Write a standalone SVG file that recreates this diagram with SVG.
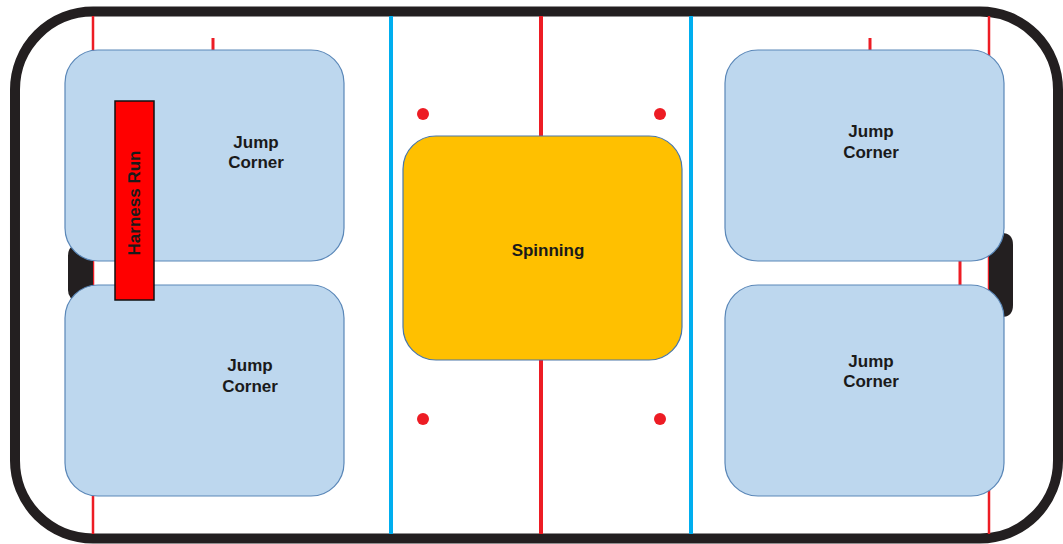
<svg xmlns="http://www.w3.org/2000/svg" width="1063" height="544" viewBox="0 0 1063 544">
  <style>
    .zone { fill: #BDD7EE; stroke: #5A87B8; stroke-width: 1.2; }
    .spin { fill: #FFC000; stroke: #4A77A8; stroke-width: 1.2; }
    .lbl { font-family: "Liberation Sans", Arial, sans-serif; font-weight: bold; font-size: 17px; fill: #1a1a1a; text-anchor: middle; }
    .red { stroke: #ED1C24; fill: none; }
    .blue { stroke: #00AEEF; stroke-width: 4; fill: none; }
    .dot { fill: #ED1C24; }
    .goal { fill: #231F20; }
  </style>
  <rect x="0" y="0" width="1063" height="544" fill="#ffffff"/>
  <g id="rink">
    <rect x="15" y="11.5" width="1043" height="527" rx="78" ry="78" fill="#ffffff" stroke="#231F20" stroke-width="10"/>
    <line class="red" x1="93" y1="16" x2="93" y2="534" stroke-width="2.5"/>
    <line class="red" x1="989" y1="16" x2="989" y2="534" stroke-width="2.5"/>
    <line class="red" x1="541" y1="16" x2="541" y2="534" stroke-width="4"/>
    <line class="blue" x1="391" y1="16" x2="391" y2="534"/>
    <line class="blue" x1="691" y1="16" x2="691" y2="534"/>
    <line class="red" x1="213" y1="38" x2="213" y2="52" stroke-width="3"/>
    <line class="red" x1="870" y1="38" x2="870" y2="52" stroke-width="3"/>
    <line class="red" x1="960" y1="250" x2="960" y2="295" stroke-width="3"/>
    <path class="goal" d="M93,245 L78,245 Q68,245 68,256 L68,290 Q68,300 78,300 L93,300 Z"/>
    <path class="goal" d="M989,233 L1002,233 Q1013,233 1013,245 L1013,305 Q1013,317 1002,317 L989,317 Z"/>
    <circle class="dot" cx="423" cy="114" r="6"/>
    <circle class="dot" cx="660" cy="114" r="6"/>
    <circle class="dot" cx="423" cy="419" r="6"/>
    <circle class="dot" cx="660" cy="419" r="6"/>
  </g>
  <g id="jump-corner-top-left">
    <rect class="zone" x="65" y="50" width="279" height="211" rx="33" ry="33"/>
    <text class="lbl" x="256" y="148">Jump</text>
    <text class="lbl" x="256" y="168">Corner</text>
  </g>
  <g id="jump-corner-bottom-left">
    <rect class="zone" x="65" y="285" width="279" height="211" rx="33" ry="33"/>
    <text class="lbl" x="250" y="371">Jump</text>
    <text class="lbl" x="250" y="392">Corner</text>
  </g>
  <g id="jump-corner-top-right">
    <rect class="zone" x="725" y="50" width="279" height="211" rx="33" ry="33"/>
    <text class="lbl" x="871" y="137">Jump</text>
    <text class="lbl" x="871" y="158">Corner</text>
  </g>
  <g id="jump-corner-bottom-right">
    <rect class="zone" x="725" y="285" width="279" height="211" rx="33" ry="33"/>
    <text class="lbl" x="871" y="367">Jump</text>
    <text class="lbl" x="871" y="387">Corner</text>
  </g>
  <g id="spinning">
    <rect class="spin" x="403" y="136" width="279" height="224" rx="33" ry="33"/>
    <text class="lbl" x="548" y="256">Spinning</text>
  </g>
  <g id="harness-run">
    <rect x="115" y="101" width="39" height="199" fill="#FF0000" stroke="#111111" stroke-width="1.5"/>
    <text class="lbl" x="0" y="0" transform="translate(140,203) rotate(-90)">Harness Run</text>
  </g>
  <g id="connectors"/>
</svg>
